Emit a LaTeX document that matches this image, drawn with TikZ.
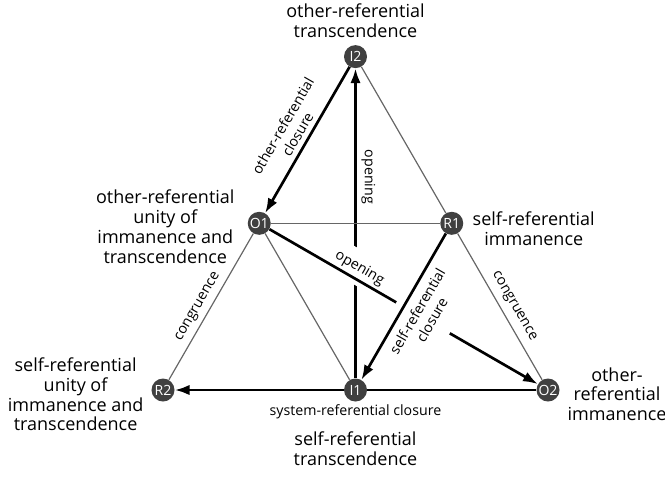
\documentclass[tikz,border=0pt]{standalone}
\usepackage{fontspec}
\setmainfont{Open Sans}
\usepackage{xcolor}
\usepackage{tikz}
\usetikzlibrary{arrows.meta,positioning,backgrounds}

\tikzset{
    vertex/.style={circle, fill=black!75, text=white, minimum size=5.75mm, inner sep=0pt, font=\fontsize{10}{12}\selectfont},
    caption/.style={align=center, font=\fontsize{12.8}{14.2}\selectfont},
    edgetext/.style={align=center, font=\fontsize{10.1}{12}\selectfont},
    flow/.style={line width=1.9pt, -{Latex[length=3.7mm,width=2.6mm]}},
    link/.style={line width=0.85pt, draw=black!60},
    cover/.style={fill=white, behind path}
}

\begin{document}
\begin{tikzpicture}[x=0.025cm, y=-0.025cm]
                \useasboundingbox (0,0) rectangle (665,476);

                \node[vertex] (I2) at (355.5,56.6) {I2};
                \node[vertex] (O1) at (259.25,223.3) {O1};
                \node[vertex] (R1) at (451.75,223.3) {R1};
                \node[vertex] (R2) at (163,390) {R2};
                \node[vertex] (I1) at (355.5,390) {I1};
                \node[vertex] (O2) at (548,390) {O2};

                \node[caption, above=1.7pt of I2] (capI2) {other-referential\\transcendence};
                \node[caption, left=5.7pt of O1, yshift=-2.5pt] (capO1) {other-referential\\unity of\\immanence and\\transcendence};
                \node[caption, right=3pt of R1, yshift=-3.5pt] (capR1) {self-referential\\immanence};
                \node[caption, left=2pt of R2, yshift=-3pt] (capR2) {self-referential\\unity of\\immanence and\\transcendence};
                \node[caption, right=2pt of O2, yshift=-3pt] (capO2) {other-\\referential\\immanence};
                \node[caption, below=18pt of I1] (capI1) {self-referential\\transcendence};

                \begin{scope}[on background layer]
                \draw[
                    flow
                    ] (I1) -- node[edgetext, pos=0.65, anchor=south, rotate=-90] {opening} (I2);

                \draw[
                    flow
                    ] (O1) -- node[edgetext, cover, pos=0.315, sloped, above, inner ysep=7pt, outer ysep=-4pt] {opening} (O2);

                \draw[
                    flow
                    ] (R1) -- node[edgetext, cover, pos=0.483, sloped, below, inner ysep=12pt, outer ysep=-6pt] {self-referential\\closure} (I1);

                \draw[
                    flow
                    ] (O2) -- node[edgetext, pos=0.5, below=6pt] {system-referential closure} (R2);

                \draw[
                    flow
                    ] (I2) -- node[edgetext, pos=0.5, sloped, above] {other-referential\\closure} (O1);

                \draw[link] (I2) -- (R1);
                \draw[link] (R1) -- node[edgetext, pos=0.54, sloped, above=1pt] {congruence} (O2);
                \draw[link] (O1) -- node[edgetext, pos=0.54, sloped, above] {congruence} (R2);
                \draw[link] (O1) -- (R1);
                \draw[link] (O1) -- (I1);
                \end{scope}
\end{tikzpicture}
\end{document}
